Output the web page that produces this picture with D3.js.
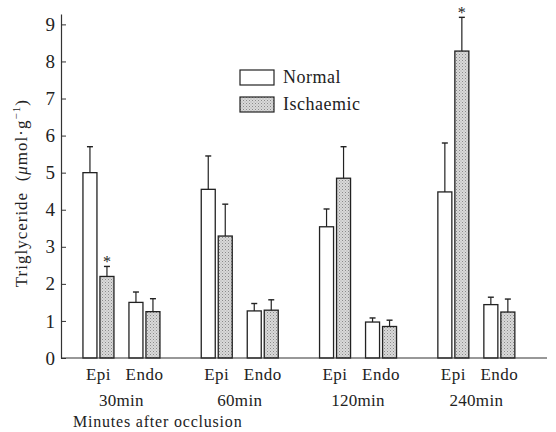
<!DOCTYPE html>
<html>
<head>
<meta charset="utf-8">
<script src="https://cdn.jsdelivr.net/npm/d3@7"></script>
<style>
  body { margin: 0; background: #fff; }
  svg text { font-family: "Liberation Serif", "Times New Roman", "DejaVu Serif", serif !important; fill: #222; }
</style>
</head>
<body>
<div id="container"></div>
<script>
/* CONSTANTS AND GLOBALS */
const width = 556,
  height = 432,
  margin = { top: 14, bottom: 74, left: 61, right: 9 };

// DATA
const groups = ["30min", "60min", "120min", "240min"];
const sites = ["Epi", "Endo"];
const conditions = ["Normal", "Ischaemic"];

// means, in order: 30min Epi, 30min Endo, 60min Epi, 60min Endo, ...
const normalMean = [5.0, 1.5, 4.55, 1.27, 3.54, 0.97, 4.48, 1.44];
const normalErr  = [5.7, 1.78, 5.45, 1.47, 4.02, 1.08, 5.8, 1.64];
const ischMean   = [2.2, 1.25, 3.29, 1.29, 4.85, 0.85, 8.28, 1.24];
const ischErr    = [2.47, 1.6, 4.15, 1.57, 5.7, 1.02, 9.19, 1.59];
const starred    = [[0, "Ischaemic"], [6, "Ischaemic"]];

const yTicks = [0, 1, 2, 3, 4, 5, 6, 7, 8, 9];

// build rows for drawing
const rows = [];
groups.forEach((g, gi) => {
  sites.forEach((s, si) => {
    const i = gi * 2 + si;
    rows.push({ i, group: g, site: s, cond: "Normal", value: normalMean[i], top: normalErr[i] });
    rows.push({ i, group: g, site: s, cond: "Ischaemic", value: ischMean[i], top: ischErr[i] });
  });
});

// SCALES
const xGroup = d3.scaleBand()
  .domain(groups)
  .range([62.3, 535.5]);

const xSite = d3.scalePoint()
  .domain(sites)
  .range([-23, 23]);

const xCond = d3.scaleBand()
  .domain(conditions)
  .range([-15.5, 15.5])
  .paddingInner(3 / 17);

const y = d3.scaleLinear()
  .domain([0, 9.28])
  .range([height - margin.bottom, margin.top]);

const siteX = d => xGroup(d.group) + xGroup.bandwidth() / 2 + xSite(d.site);
const barX = d => siteX(d) + xCond(d.cond);

// SVG
const svg = d3.select("#container")
  .append("svg")
  .attr("width", width)
  .attr("height", height)
  .attr("font-family", "Liberation Serif, Times New Roman, serif");

// stipple pattern for the ischaemic bars
const pat = svg.append("defs").append("pattern")
  .attr("id", "stipple")
  .attr("patternUnits", "userSpaceOnUse")
  .attr("width", 3)
  .attr("height", 3);
pat.append("rect").attr("width", 3).attr("height", 3).attr("fill", "#d9d9d9");
pat.append("rect").attr("x", 0).attr("y", 0).attr("width", 1).attr("height", 1).attr("fill", "#8a8a8a");
pat.append("rect").attr("x", 1.5).attr("y", 1.5).attr("width", 1).attr("height", 1).attr("fill", "#a8a8a8");

// BARS
svg.selectAll(".bar")
  .data(rows)
  .join("rect")
  .attr("class", "bar")
  .attr("x", barX)
  .attr("y", d => y(d.value))
  .attr("width", xCond.bandwidth())
  .attr("height", d => y(0) - y(d.value))
  .attr("fill", d => d.cond === "Normal" ? "#fff" : "url(#stipple)")
  .attr("stroke", "#222")
  .attr("stroke-width", 1.3);

// ERROR BARS
const cx = d => barX(d) + xCond.bandwidth() / 2;
svg.selectAll(".err")
  .data(rows)
  .join("line")
  .attr("class", "err")
  .attr("x1", cx).attr("x2", cx)
  .attr("y1", d => y(d.value))
  .attr("y2", d => y(d.top))
  .attr("stroke", "#222")
  .attr("stroke-width", 1.2);

svg.selectAll(".cap")
  .data(rows)
  .join("line")
  .attr("class", "cap")
  .attr("x1", d => cx(d) - 3).attr("x2", d => cx(d) + 3)
  .attr("y1", d => y(d.top)).attr("y2", d => y(d.top))
  .attr("stroke", "#222")
  .attr("stroke-width", 1.4);

// ASTERISKS
svg.selectAll(".star")
  .data(starred.map(([i, c]) => rows.find(r => r.i === i && r.cond === c)))
  .join("text")
  .attr("class", "star")
  .attr("x", cx)
  .attr("y", d => y(d.top) + 1)
  .attr("text-anchor", "middle")
  .attr("font-size", 16)
  .text("*");

// Y AXIS
const yAxis = svg.append("g")
  .attr("transform", `translate(${margin.left},0)`)
  .call(d3.axisLeft(y).tickValues(yTicks).tickFormat(d3.format("d"))
    .tickSizeInner(-5).tickSizeOuter(0).tickPadding(6));
yAxis.attr("font-family", null);
yAxis.select(".domain").attr("stroke", "#333").attr("stroke-width", 1.2);
yAxis.selectAll(".tick line").attr("stroke", "#333");
yAxis.selectAll(".tick text")
  .attr("font-size", 19)
  .attr("fill", "#222");

// X AXIS LINE
svg.append("line")
  .attr("x1", margin.left).attr("x2", width - margin.right)
  .attr("y1", y(0)).attr("y2", y(0))
  .attr("stroke", "#333")
  .attr("stroke-width", 1.2);

// SITE LABELS
const siteRows = rows.filter(d => d.cond === "Normal");
svg.selectAll(".site-label")
  .data(siteRows)
  .join("text")
  .attr("class", "site-label")
  .attr("x", siteX)
  .attr("y", y(0) + 22)
  .attr("text-anchor", "middle")
  .attr("font-size", 17)
  .attr("letter-spacing", 0.5)
  .text(d => d.site);

// GROUP LABELS
svg.selectAll(".group-label")
  .data(groups)
  .join("text")
  .attr("class", "group-label")
  .attr("x", d => xGroup(d) + xGroup.bandwidth() / 2)
  .attr("y", y(0) + 48)
  .attr("text-anchor", "middle")
  .attr("font-size", 17)
  .attr("letter-spacing", 0.3)
  .text(d => d);

svg.append("text")
  .attr("x", 73)
  .attr("y", y(0) + 69)
  .attr("font-size", 16)
  .attr("letter-spacing", 0.8)
  .text("Minutes after occlusion");

// Y TITLE
const yt = svg.append("text")
  .attr("transform", `translate(27,${(y(0) + y(9)) / 2 + 2}) rotate(-90)`)
  .attr("text-anchor", "middle")
  .attr("font-size", 17)
  .attr("letter-spacing", 1);
yt.append("tspan").text("Triglyceride\u00a0\u00a0(");
yt.append("tspan").attr("font-style", "italic").text("\u03bc");
yt.append("tspan").text("mol\u00b7g");
yt.append("tspan").attr("dy", -7).attr("font-size", 11).text("\u22121");
yt.append("tspan").attr("dy", 7).text(")");

// LEGEND
const legend = svg.append("g").attr("transform", "translate(240,70)");
legend.selectAll("rect")
  .data(conditions)
  .join("rect")
  .attr("x", 0)
  .attr("y", (d, i) => i * 27)
  .attr("width", 34)
  .attr("height", 15)
  .attr("fill", d => d === "Normal" ? "#fff" : "url(#stipple)")
  .attr("stroke", "#222")
  .attr("stroke-width", 1.2);
legend.selectAll("text")
  .data(conditions)
  .join("text")
  .attr("x", 43)
  .attr("y", (d, i) => i * 27 + 13)
  .attr("font-size", 18)
  .attr("letter-spacing", 0.5)
  .text(d => d);
</script>
</body>
</html>
